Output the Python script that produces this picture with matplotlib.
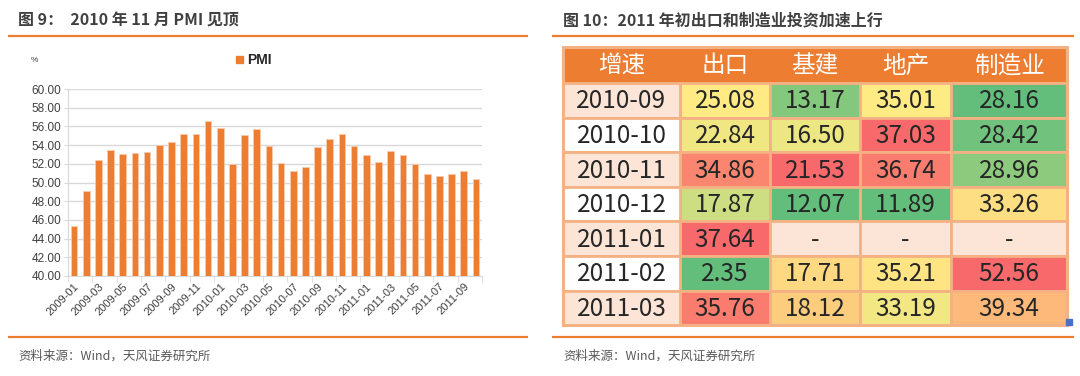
import numpy as np
import matplotlib.pyplot as plt
from matplotlib.patches import Rectangle
from matplotlib.colors import LinearSegmentedColormap, TwoSlopeNorm

# PMI 2009-01 .. 2011-10
months = [f"{y}-{m:02d}" for y in (2009, 2010, 2011) for m in range(1, 13)][:34]
pmi = [45.3, 49.1, 52.4, 53.5, 53.1, 53.2, 53.3, 54.0, 54.3, 55.2, 55.2, 56.6,
       55.8, 52.0, 55.1, 55.7, 53.9, 52.1, 51.2, 51.7, 53.8, 54.7, 55.2, 53.9,
       52.9, 52.2, 53.4, 52.9, 52.0, 50.9, 50.7, 50.9, 51.2, 50.4]

# table data
row_labels = ['2010-09', '2010-10', '2010-11', '2010-12', '2011-01', '2011-02', '2011-03']
col_labels = ['增速', '出口', '基建', '地产', '制造业']
export = [25.08, 22.84, 34.86, 17.87, 37.64, 2.35, 35.76]
infra = [13.17, 16.50, 21.53, 12.07, None, 17.71, 18.12]
realty = [35.01, 37.03, 36.74, 11.89, None, 35.21, 33.19]
manuf = [28.16, 28.42, 28.96, 33.26, None, 52.56, 39.34]

ORANGE = '#ED7D31'
PEACH = '#FCE4D6'
BORDER = '#F4B183'
DARK = '#404040'
CJK = ['Noto Sans CJK SC', 'DejaVu Sans']

plt.rcParams['font.family'] = ['Liberation Sans', 'Noto Sans CJK SC']

W, H = 1080, 376
fig = plt.figure(figsize=(W / 100, H / 100), dpi=100)

# overlay in pixel coordinates for titles, rules and the table
ov = fig.add_axes([0, 0, 1, 1])
ov.set_xlim(0, W)
ov.set_ylim(H, 0)
ov.axis('off')
ov.patch.set_visible(False)

ov.text(18, 20, '图 9：  2010 年 11 月 PMI 见顶', family=CJK, fontsize=11.5,
        fontweight='bold', color=DARK, va='center')
ov.text(563, 20, '图 10：2011 年初出口和制造业投资加速上行', family=CJK, fontsize=11.5,
        fontweight='bold', color=DARK, va='center')
for x0, x1 in [(8, 528), (552, 1074)]:
    ov.plot([x0, x1], [36, 36], color=ORANGE, lw=1.6, solid_capstyle='butt')
    ov.plot([x0, x1], [337, 337], color=ORANGE, lw=1.6, solid_capstyle='butt')
for x in (18, 563):
    ov.text(x, 356, '资料来源：Wind，天风证券研究所', family=CJK, fontsize=9,
            color='#595959', va='center')

# left legend and unit
ov.add_patch(Rectangle((236, 56), 7, 7, color=ORANGE))
ov.text(247, 60, 'PMI', fontsize=10, fontweight='bold', color='#262626', va='center')
ov.text(31, 61, '%', fontsize=6, color=DARK, va='center')

# table
xe = [563, 680, 770, 860, 951, 1067]
ye = [47, 83] + [83 + 34.6 * (i + 1) for i in range(7)]
cmap = LinearSegmentedColormap.from_list('gyr', ['#63BE7B', '#FFEB84', '#F8696B'])

ov.add_patch(Rectangle((xe[0], ye[0]), xe[-1] - xe[0], ye[1] - ye[0],
                       facecolor=ORANGE, edgecolor=BORDER, lw=2))
for j, lab in enumerate(col_labels):
    ov.text((xe[j] + xe[j + 1]) / 2, (ye[0] + ye[1]) / 2 + 1, lab, family=CJK,
            fontsize=17, color='white', ha='center', va='center')

columns = [export, infra, realty, manuf]
for j, col in enumerate(columns):
    vals = [v for v in col if v is not None]
    norm = TwoSlopeNorm(vmin=min(vals), vcenter=float(np.median(vals)), vmax=max(vals))
    for i, v in enumerate(col):
        x0, x1 = xe[j + 1], xe[j + 2]
        y0, y1 = ye[i + 1], ye[i + 2]
        fc = PEACH if v is None else cmap(norm(v))
        ov.add_patch(Rectangle((x0, y0), x1 - x0, y1 - y0, facecolor=fc,
                               edgecolor=BORDER, lw=2))
        ov.text((x0 + x1) / 2, (y0 + y1) / 2 + 1, '-' if v is None else f'{v:.2f}',
                family=CJK, fontsize=17.5, fontweight='light', color='#262626',
                ha='center', va='center')

for i, lab in enumerate(row_labels):
    y0, y1 = ye[i + 1], ye[i + 2]
    fc = PEACH if i % 2 == 0 else 'white'
    ov.add_patch(Rectangle((xe[0], y0), xe[1] - xe[0], y1 - y0, facecolor=fc,
                           edgecolor=BORDER, lw=2))
    ov.text((xe[0] + xe[1]) / 2, (y0 + y1) / 2 + 1, lab, family=CJK,
            fontsize=17.5, fontweight='light', color='#262626', ha='center', va='center')

ov.add_patch(Rectangle((xe[0], ye[0]), xe[-1] - xe[0], ye[-1] - ye[0],
                       fill=False, edgecolor=BORDER, lw=2.2))
ov.add_patch(Rectangle((1066, 319), 6, 6, color='#4472C4'))

# left bar chart
ax = fig.add_axes([68 / W, 1 - 276 / H, 414 / W, 187 / H])
x = np.arange(len(pmi))
ax.bar(x, pmi, width=0.55, color=ORANGE, edgecolor='#F8CBAD', linewidth=0.6, zorder=3)
ax.set_xlim(-0.5, len(pmi) - 0.5)
ax.set_ylim(40, 60)
ax.set_yticks(np.arange(40, 60.1, 2))
ax.set_yticklabels([f'{v:.2f}' for v in np.arange(40, 60.1, 2)])
ax.grid(axis='y', color='#D9D9D9', lw=1, zorder=0)
ax.set_xticks(x[::2])
ax.set_xticklabels(months[::2], rotation=45, ha='right', rotation_mode='anchor')
ax.set_xticks(np.arange(-0.5, len(pmi), 2), minor=True)
ax.tick_params(axis='x', which='major', length=0, pad=4, labelsize=8, labelcolor=DARK)
ax.tick_params(axis='x', which='minor', length=4, color='#D9D9D9')
ax.tick_params(axis='y', length=3, color='#D9D9D9', labelsize=8.5, labelcolor=DARK, pad=2)
for s in ('top', 'right'):
    ax.spines[s].set_visible(False)
for s in ('left', 'bottom'):
    ax.spines[s].set_color('#D9D9D9')
ax.set_facecolor('none')

fig.savefig('out.png', dpi=100)
